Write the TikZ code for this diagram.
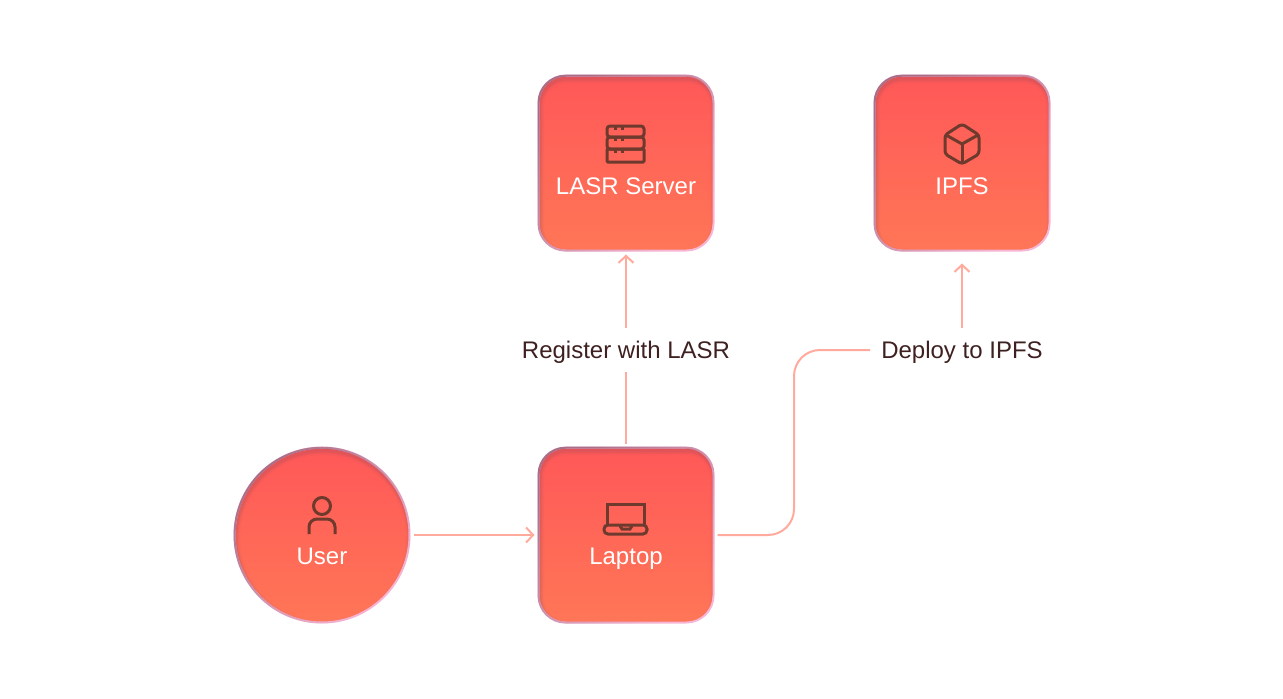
\documentclass[tikz,border=0pt]{standalone}
\usepackage{fontspec}
\setmainfont{Liberation Sans}
\usetikzlibrary{arrows.meta,fadings}

\definecolor{boxtop}{HTML}{FF5858}
\definecolor{boxmid}{HTML}{FF6458}
\definecolor{boxbot}{HTML}{FF7657}
\definecolor{rimpink}{HTML}{F9B6D4}
\definecolor{rimdark}{HTML}{A87088}
\definecolor{shadowcol}{HTML}{8E4A5A}
\definecolor{iconcol}{HTML}{6F3A2E}
\definecolor{labelcol}{HTML}{3E2020}
\definecolor{linecol}{HTML}{FFAA9C}

\tikzset{
  basenode/.style = {minimum size=175pt, inner sep=0pt, line width=2pt, draw=rimpink,
    top color=boxtop, middle color=boxmid, bottom color=boxbot,
    postaction={draw=rimdark, line width=2pt, path fading=south, fading angle=45}},
  boxnode/.style = {basenode, rectangle, rounded corners=27pt,
    path picture={
      \foreach \w/\o in {9/.05,6/.09,3.5/.14} {
        \draw[shadowcol, line width=\w pt, opacity=\o, rounded corners=27pt]
          ([shift={(1,3)}]path picture bounding box.north west) rectangle
          ([shift={(1,3)}]path picture bounding box.south east);
      }}},
  circlenode/.style = {basenode, circle,
    path picture={
      \foreach \w/\o in {9/.05,6/.09,3.5/.14} {
        \draw[shadowcol, line width=\w pt, opacity=\o]
          ([shift={(1,3)}]path picture bounding box.center) circle (87.5);
      }}},
  boxtext/.style = {text=white, anchor=base, font=\fontsize{24}{28}\selectfont},
  flowtext/.style = {text=labelcol, font=\fontsize{24}{28}\selectfont,
    text height=29.5pt, text depth=13.5pt, inner xsep=11pt, inner ysep=0pt},
  flowline/.style = {draw=linecol, line width=2pt},
  flowarrow/.style = {flowline, -{Straight Barb[length=7pt,width=15pt,line width=2pt]}},
  iconline/.style = {draw=iconcol, line width=3pt},
  usericon/.pic = {
    \draw[iconline] (0,-29) circle (8.5);
    \draw[iconline, rounded corners=8pt] (-13,-1) -- (-13,-16) -- (13,-16) -- (13,-1);
  },
  laptopicon/.pic = {
    \draw[iconline] (-19,-10) -- (-19,-31) -- (18,-31) -- (18,-10);
    \draw[iconline, rounded corners=4pt] (-22,-10) -- (-22,-1) -- (21,-1) -- (21,-10) -- cycle;
    \draw[iconline] (-6,-9) -- (-4,-6) -- (4,-6) -- (6,-9);
  },
  servericon/.pic = {
    \draw[iconline, rounded corners=3pt] (-19,-37) rectangle (18,-26);
    \draw[iconline, rounded corners=3pt] (-19,-26) rectangle (18,-14);
    \draw[iconline, rounded corners=1pt] (-19,-14) rectangle (18,-1);
    \foreach \y in {-37,-26,-14} {
      \draw[iconcol, line width=2.5pt] (-10.5,\y) -- (-10.5,\y+4);
      \draw[iconcol, line width=2.5pt] (-3.5,\y) -- (-3.5,\y+4);
    }
  },
  cubeicon/.pic = {
    \draw[iconline, line join=round, rounded corners=3pt]
      (0,-40) -- (17,-29) -- (17,-10) -- (0,0) -- (-17,-10) -- (-17,-29) -- cycle;
    \draw[iconline, line join=round] (-16,-29) -- (0,-20) -- (16,-29);
    \draw[iconline] (0,-20) -- (0,-1);
  },
}

\begin{document}
\begin{tikzpicture}[x=1pt, y=-1pt]
  \useasboundingbox (0,0) rectangle (1283,699);

  \node[boxnode] (lasr) at (626,163) {};
  \node[boxnode] (ipfs) at (962,163) {};
  \node[boxnode] (laptop) at (626,535) {};
  \node[circlenode] (user) at (322,535) {};

  \node[boxtext] (lasrtext) at (626,194) {LASR Server};
  \node[boxtext] (ipfstext) at (962,194) {IPFS};
  \node[boxtext] (laptoptext) at (626,564.5) {Laptop};
  \node[boxtext] (usertext) at (322,564.5) {User};

  \pic at (626,163) {servericon};
  \pic at (962,164) {cubeicon};
  \pic at (626,535) {laptopicon};
  \pic at (322,535) {usericon};

  \node[flowtext] (register) at (626,350) {Register with LASR};
  \node[flowtext] (deploy) at (962,350) {Deploy to IPFS};
  \coordinate (bend) at (794,350);

  % connectors
  \draw[flowarrow, shorten <=3pt, shorten >=3pt] (user) -- (laptop);
  \draw[flowline, shorten <=3pt] (laptop) -- (register);
  \draw[flowarrow, shorten >=3pt] (register) -- (lasr);
  \draw[flowline, rounded corners=26pt, shorten <=3pt]
    (laptop.east) -- (bend |- laptop.east) -- (bend) -- (deploy.west);
  \draw[flowarrow, shorten >=12pt] (deploy) -- (ipfs);
\end{tikzpicture}
\end{document}
